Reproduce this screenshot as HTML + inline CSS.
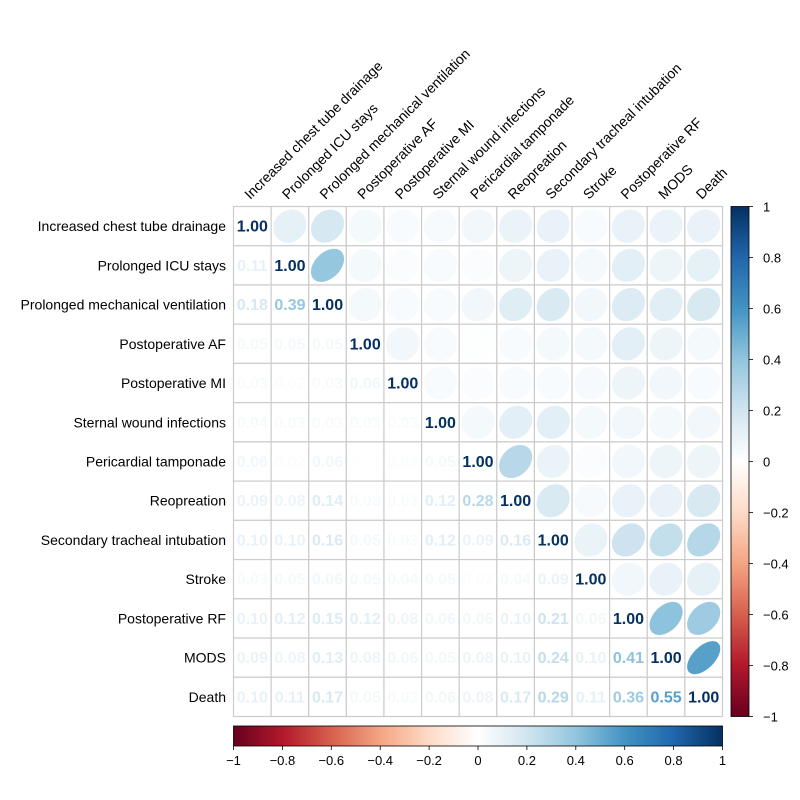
<!DOCTYPE html>
<html><head><meta charset="utf-8"><style>
html,body{margin:0;padding:0;background:#fff;}
svg{display:block;font-family:"Liberation Sans",Arial,sans-serif;}
</style></head><body>
<svg id="chart" width="800" height="800" viewBox="0 0 800 800">
<defs>
<linearGradient id="gv" x1="0" y1="1" x2="0" y2="0"></linearGradient>
<linearGradient id="gh" x1="0" y1="0" x2="1" y2="0"></linearGradient>
</defs>
<g id="cells"></g>
<g id="labels"></g>
<g id="legend"></g>
</svg>
<script>
const variables = ["Increased chest tube drainage","Prolonged ICU stays","Prolonged mechanical ventilation","Postoperative AF","Postoperative MI","Sternal wound infections","Pericardial tamponade","Reopreation","Secondary tracheal intubation","Stroke","Postoperative RF","MODS","Death"];
const lowerRows = [
 [],
 [0.11],
 [0.18,0.39],
 [0.05,0.05,0.05],
 [0.03,0.02,0.03,0.06],
 [0.04,0.03,0.03,0.03,0.03],
 [0.06,0.02,0.06,0.01,0.02,0.05],
 [0.09,0.08,0.14,0.03,0.03,0.12,0.28],
 [0.10,0.10,0.16,0.05,0.03,0.12,0.09,0.16],
 [0.03,0.05,0.06,0.05,0.04,0.05,0.02,0.04,0.09],
 [0.10,0.12,0.15,0.12,0.08,0.06,0.06,0.10,0.21,0.06],
 [0.09,0.08,0.13,0.08,0.06,0.05,0.08,0.10,0.24,0.10,0.41],
 [0.10,0.11,0.17,0.05,0.03,0.06,0.08,0.17,0.29,0.11,0.36,0.55]
];
const tickLabels = ["\u22121","\u22120.8","\u22120.6","\u22120.4","\u22120.2","0","0.2","0.4","0.6","0.8","1"];
const tickValues = [-1,-0.8,-0.6,-0.4,-0.2,0,0.2,0.4,0.6,0.8,1];
const palette = ["#67001F","#B2182B","#D6604D","#F4A582","#FDDBC7","#FFFFFF","#D1E5F0","#92C5DE","#4393C3","#2166AC","#053061"];

const NS="http://www.w3.org/2000/svg";
const X0=233.5,X1=722.5,Y0=206.5,Y1=716.5;
const n=variables.length, cw=(X1-X0)/n, ch=(Y1-Y0)/n;
const colX=i=>X0+cw*(i+0.5), rowY=i=>Y0+ch*(i+0.5);
function mk(tag,attrs,parent){const e=document.createElementNS(NS,tag);for(const k in attrs)e.setAttribute(k,attrs[k]);parent.appendChild(e);return e;}
function hex(c){return [1,3,5].map(i=>parseInt(c.substr(i,2),16));}
function color(v){const t=(Math.max(-1,Math.min(1,v))+1)/2*10;const i=Math.min(9,Math.floor(t));const f=t-i;const a=hex(palette[i]),b=hex(palette[i+1]);return "rgb("+a.map((x,k)=>Math.round(x+(b[k]-x)*f)).join(",")+")";}
function corr(i,j){if(i===j)return 1;return i>j?lowerRows[i][j]:lowerRows[j][i];}

const cells=document.getElementById('cells');
// grid backgrounds
for(let i=0;i<n;i++)for(let j=0;j<n;j++){
 const r=mk('rect',{x:X0+j*cw,y:Y0+i*ch,width:cw,height:ch,fill:'#fff',stroke:'#cccccc','stroke-width':1.2},cells);
 
 
}
for(let i=0;i<n;i++)for(let j=0;j<n;j++){
 const v=corr(i,j);
 if(j>i){
  const rr=Math.min(cw,ch)*0.44;
  const a=Math.acos(v)/2;let d="";
  for(let k=0;k<=60;k++){const t=k/60*2*Math.PI;const x=colX(j)+Math.cos(t+a)*rr;const y=rowY(i)-Math.cos(t-a)*rr;d+=(k?"L":"M")+x.toFixed(2)+","+y.toFixed(2);}
  const p=mk('path',{d:d+"Z",fill:color(v)},cells);
  
  
 } else {
  const t=mk('text',{x:colX(j),y:rowY(i)+5.5,'text-anchor':'middle','font-size':16,'font-weight':'bold',fill:color(v)},cells);
  t.textContent=v.toFixed(2);
  
  
 }
}
const labels=document.getElementById('labels');
variables.forEach((s,i)=>{
 const t=mk('text',{x:226,y:rowY(i)+5,'text-anchor':'end','font-size':14,fill:'#000'},labels);
 t.textContent=s;
 
 
 const c=mk('text',{x:0,y:0,'font-size':14,fill:'#000',transform:"translate("+(colX(i)-2)+",200) rotate(-45)"},labels);
 c.textContent=s;
 
 
});
// legends
const gv=document.getElementById('gv'),gh=document.getElementById('gh');
palette.forEach((c,k)=>{mk('stop',{offset:(k*10)+'%','stop-color':c},gv);mk('stop',{offset:(k*10)+'%','stop-color':c},gh);});
const lg=document.getElementById('legend');
const vb=mk('rect',{x:731,y:Y0,width:18,height:Y1-Y0,fill:'url(#gv)',stroke:'#000','stroke-width':0.8},lg);


const hb=mk('rect',{x:X0,y:726,width:X1-X0,height:20,fill:'url(#gh)',stroke:'#000','stroke-width':0.8},lg);


tickValues.forEach((v,k)=>{
 const y=Y1-(v+1)/2*(Y1-Y0);
 mk('line',{x1:749,x2:753,y1:y,y2:y,stroke:'#000','stroke-width':0.8},lg);
 const t=mk('text',{x:763,y:y+5,'font-size':13,fill:'#000'},lg);
 t.textContent=tickLabels[k];
 
 
 const x=X0+(v+1)/2*(X1-X0);
 mk('line',{x1:x,x2:x,y1:746,y2:750,stroke:'#000','stroke-width':0.8},lg);
 const h=mk('text',{x:x,y:765,'font-size':13,fill:'#000','text-anchor':'middle'},lg);
 h.textContent=tickLabels[k];
 
 
});
</script>
</body></html>
